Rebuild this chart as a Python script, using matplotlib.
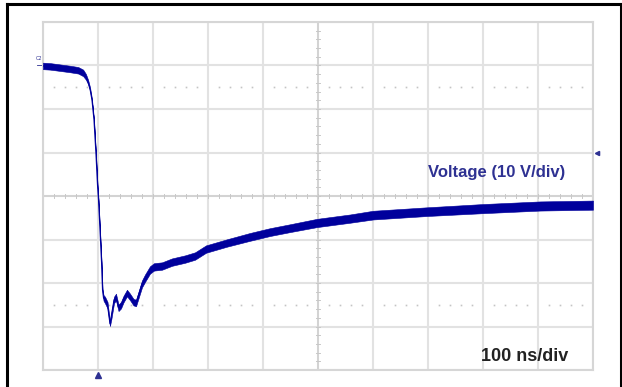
import numpy as np
import matplotlib
matplotlib.use('agg')
import matplotlib.pyplot as plt
from matplotlib.lines import Line2D

# scope trace: time (ns, trigger at 0) vs voltage (V), plus peak-to-peak noise band
time_ns = [-100, -87, -69, -51, -36, -27, -22, -18, -14.5, -11, -7.3, -3.6, -0.9,
           0.9, 3.6, 6.4, 8.2, 10, 12.7, 17.3, 21.8, 24.5, 29.1, 32.7, 37.3, 41.8,
           46.4, 52.7, 58.2, 64.5, 69.1, 73.6, 80, 85.5, 94.5, 101.8, 116.4, 134.5,
           158.2, 176.4, 196.4, 234.5, 276.4, 312.7, 349.1, 398.2, 458.2, 500,
           598.2, 700, 803.6, 900]
voltage_v = [29.9, 29.8, 29.5, 29.2, 28.9, 28.3, 27.4, 26.2, 24.6, 22.1, 17.5, 9.4, 2.5,
             -0.9, -7.8, -15.2, -21.6, -23.4, -23.9, -25.1, -29.4, -27.4, -23.9, -23.2,
             -25.7, -25.1, -23.7, -22.3, -23.2, -24.4, -24.6, -22.8, -20.2, -18.9,
             -17.0, -16.3, -16.1, -15.2, -14.5, -13.8, -12.2, -10.8, -9.4, -8.3, -7.4,
             -6.2, -5.2, -4.4, -3.6, -2.9, -2.3, -2.1]
noise_pp = [1.5, 1.5, 1.5, 1.5, 1.5, 1.5, 1.3, 1.0, 0.8, 0.6, 0.4, 0.3, 0.3,
            0.3, 0.3, 0.3, 0.4, 1.3, 1.5, 1.5, 1.0, 1.5, 1.5, 1.5, 1.5, 1.5,
            1.5, 1.5, 1.5, 1.5, 1.5, 1.5, 1.6, 1.7, 1.7, 1.7, 1.7, 1.7, 1.7,
            1.7, 1.7, 1.7, 1.8, 1.8, 1.8, 1.9, 1.9, 2.0, 2.0, 2.1, 2.1, 2.1]

trace_col = '#00009c'
label_col = '#2e3192'
grid_col = '#e2e2e2'
bold = {'family': 'Liberation Sans', 'weight': 'bold'}

fig = plt.figure(figsize=(6.22, 3.87), dpi=100)
ax = fig.add_axes([43 / 622, 17 / 387, 550 / 622, 348 / 387])
ax.set_xlim(-100, 900)
ax.set_ylim(-40, 40)
ax.set_xticks(np.arange(-100, 901, 100))
ax.set_yticks(np.arange(-40, 41, 10))
ax.tick_params(length=0, labelbottom=False, labelleft=False)
ax.grid(True, color=grid_col, lw=1.5)
for sp in ax.spines.values():
    sp.set_color('#d6d6d6')
    sp.set_linewidth(1.5)

# center axes with minor ticks
ax.axhline(0, color='#cfcfcf', lw=1.1)
ax.axvline(400, color='#cfcfcf', lw=1.1)
for t in np.arange(-100, 901, 20):
    ax.plot([t, t], [-0.45, 0.45], color='#c8c8c8', lw=0.7)
for v in np.arange(-40, 41, 2):
    ax.plot([396, 404], [v, v], color='#c8c8c8', lw=0.7)

# dotted reference levels
dots_t = [t for t in np.arange(-100, 901, 20) if t % 100 != 0]
for lvl in (25, -25):
    ax.plot(dots_t, [lvl] * len(dots_t), ls='none', marker='s', ms=1.2,
            color='#c4c4c4', mec='none')

# the waveform
t = np.array(time_ns)
v = np.array(voltage_v)
half = np.array(noise_pp) / 2
ax.fill_between(t, v - half, v + half, color=trace_col, lw=0.4, ec=trace_col, zorder=3)
ax.plot(t, v, color=trace_col, lw=0.8, zorder=3)

# channel / trigger markers
ax.text(-102, 31.5, 'C2', fontsize=3.5, color=label_col, ha='right', va='center',
        clip_on=False)
ax.plot([-110, -100], [30.2, 30.2], color=label_col, lw=0.6, clip_on=False)
ax.plot([0], [-41.2], marker='^', ms=4, color=label_col, clip_on=False)
ax.plot([907], [9.9], marker='<', ms=3, color=label_col, clip_on=False)

ax.text(724, 5.5, 'Voltage (10 V/div)', fontsize=12, color=label_col,
        ha='center', va='center', fontdict=bold)
ax.text(855, -37, '100 ns/div', fontsize=13, color='#222222',
        ha='right', va='center', fontdict=bold)

# outer frame
W, H = 622, 387
fig.add_artist(Line2D([7.5 / W, 7.5 / W], [0, 1 - 4 / H], color='black', lw=2.2))
fig.add_artist(Line2D([620.5 / W, 620.5 / W], [0, 1 - 4 / H], color='black', lw=2.2))
fig.add_artist(Line2D([7.5 / W, 620.5 / W], [1 - 4 / H, 1 - 4 / H], color='black', lw=2.2))

fig.savefig('out.png', dpi=100)
